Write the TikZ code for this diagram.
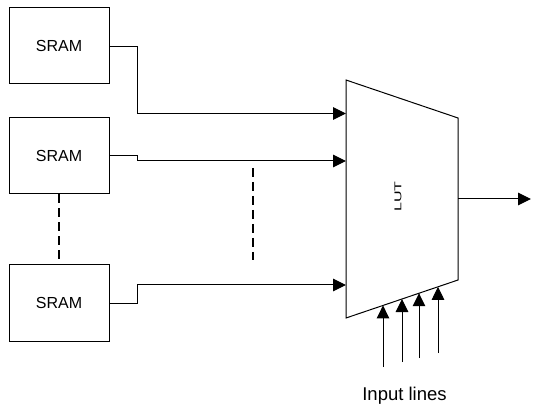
\documentclass[tikz,border=0pt]{standalone}
\usepackage{fontspec}
\setmainfont{Liberation Sans}
\usetikzlibrary{arrows.meta}
\tikzset{
  sram/.style={draw, line width=1pt, minimum width=100pt, minimum height=76pt, inner sep=0pt, font=\fontsize{16}{19}\selectfont},
  wire/.style={line width=1pt},
  arr/.style={line width=1pt, -{Triangle[length=13pt, width=12.5pt]}},
  dots/.style={line width=2.5pt, dash pattern=on 9pt off 5pt}
}
\begin{document}
\begin{tikzpicture}[x=1pt, y=-1pt]
\useasboundingbox (0,0) rectangle (533,406);
\node[sram] (s1) at (59,46) {SRAM};
\node[sram] (s2) at (59,156) {SRAM};
\node[sram] (s3) at (59,303) {SRAM};
% LUT trapezoid
\coordinate (tl) at (346,80);
\coordinate (tr) at (458,118);
\coordinate (br) at (458,280);
\coordinate (bl) at (346,318);
\draw[line width=1pt] (tl) -- (tr) -- (br) -- (bl) -- cycle;
\node[rotate=90, font=\fontsize{16}{19}\selectfont] (lut) at (398,196.5) {\scalebox{1}[0.62]{LUT}};
% inputs to LUT
\coordinate (i1) at (346,113.5);
\coordinate (i2) at (346,161);
\coordinate (i3) at (346,285);
\draw[arr] (s1.east |- 0,47) -- (137,47) -- (137,113.5) -- (i1);
\draw[arr] (s2.east |- 0,156) -- (137,156) -- (137,161) -- (i2);
\draw[arr] (s3.east |- 0,303) -- (137,303) -- (137,285) -- (i3);
% output
\coordinate (o1) at (458,199);
\coordinate (o2) at (531,199);
\draw[arr] (o1) -- (o2);
% dashed
\draw[dots] (s2.south) -- (s3.north);
\coordinate (d1) at (253,168);
\coordinate (d2) at (253,260);
\draw[dots] (d1) -- (d2);
% input lines
\foreach \x/\yb/\yt [count=\i] in {383/367/305.4, 402/362/299, 419/358/293.2, 438/353/286.8}{
  \coordinate (in\i) at (\x,\yb);
  \coordinate (it\i) at (\x,\yt);
  \draw[arr] (in\i) -- (it\i);
}
\node[font=\fontsize{18.5}{22}\selectfont, anchor=base, inner sep=0pt] (lbl) at (404.5,400.5) {Input lines};
\end{tikzpicture}
\end{document}
